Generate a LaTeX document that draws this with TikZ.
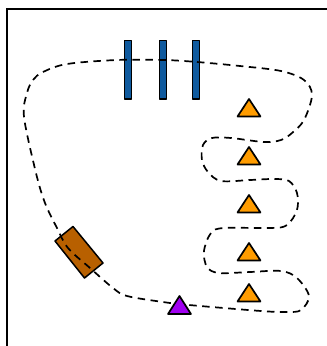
\documentclass[tikz,border=0pt]{standalone}
\tikzset{
  tri/.style={draw=black,line width=1.7pt,line join=round,fill=#1},
  bar/.style={draw=black,line width=1.5pt,line join=round,fill=bluebar},
  route/.style={draw=black,line width=1.7pt,dash pattern=on 7.5pt off 5.5pt},
}
\definecolor{bluebar}{HTML}{0F5A9E}
\definecolor{orangetri}{HTML}{FF9C00}
\definecolor{purpletri}{HTML}{A000F0}
\definecolor{brownbox}{HTML}{B86000}
\begin{document}
\begin{tikzpicture}[x=1pt,y=-1pt]
\useasboundingbox (0,0) rectangle (327,346);
% frame
\draw[line width=2pt] (7,346) -- (7,9) -- (327,9);
% bars
\foreach \x in {124.5,159.5,192.5}
  \draw[bar] (\x,40.5) rectangle ++(7,58.5);
% cart
\draw[line width=1.5pt,line join=round,fill=brownbox] (55,241) -- (73,226.5) -- (103,263) -- (84.5,278) -- cycle;
% orange triangles
\foreach \y in {99,147,195,243,284}
  \draw[tri=orangetri] (249,\y) -- (260.5,\y+17.5) -- (237.5,\y+17.5) -- cycle;
% route
\draw[route] plot[smooth cycle,tension=0.55] coordinates {
 (164,60) (197,62) (240,66) (281,71) (304,80) (312,95) (304,120) (292,133) (281,140) (264,142)
 (231,138) (212,138) (203,145) (202,160) (208,172) (221,181) (250,180) (274,179) (289,181) (297,193)
 (297,210) (287,225) (271,228) (224,228) (211,233) (204,251) (207,267) (219,273) (250,272) (281,271)
 (297,278) (309,296) (301,310) (287,312) (261,311) (189,305) (163,302) (127,296) (113,288) (90,268)
 (68,248) (57,228) (45,203) (36,173) (24,117) (27,93) (33,80) (43,72) (67,64) (117,60)};
% purple triangle
\draw[tri=purpletri] (179.5,296) -- (191,314) -- (168,314) -- cycle;
\end{tikzpicture}
\end{document}
